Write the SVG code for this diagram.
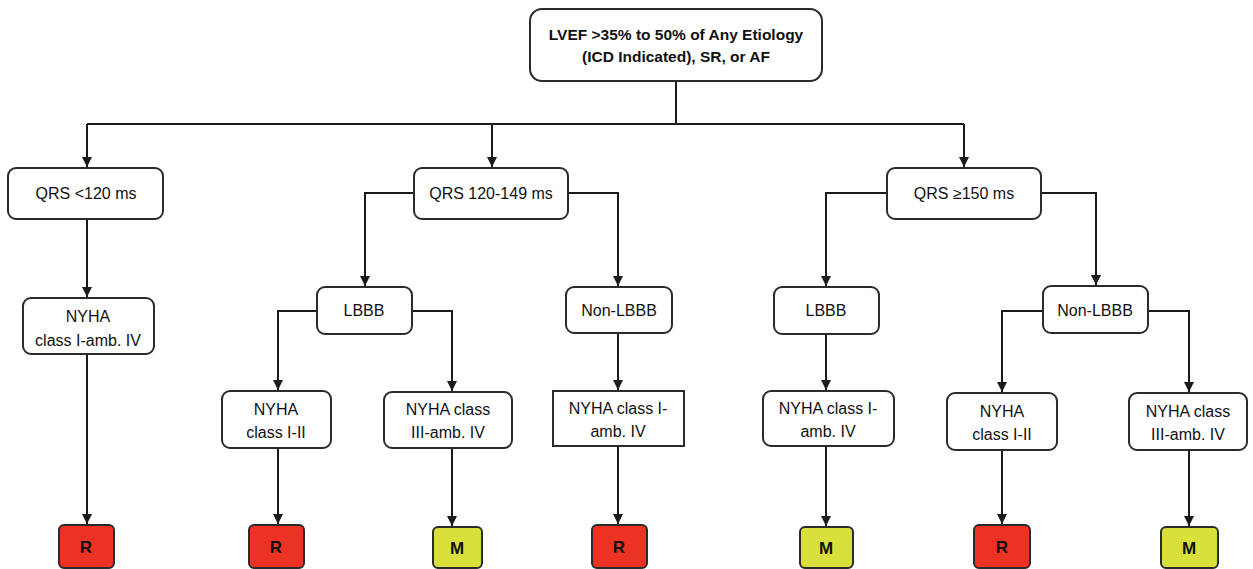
<svg xmlns="http://www.w3.org/2000/svg" width="1253" height="569" viewBox="0 0 1253 569">
<style>
.box{fill:#fff;stroke:#2b2b2b;stroke-width:2}
.r{fill:#ec3323;stroke:#2b2b2b;stroke-width:2}
.m{fill:#d9e03c;stroke:#2b2b2b;stroke-width:2}
.t{font-family:"Liberation Sans",Arial,sans-serif;font-size:16px;fill:#111;text-anchor:middle}
.b{font-weight:bold}
.big{font-family:"Liberation Sans",Arial,sans-serif;font-size:17px;font-weight:bold;fill:#111;text-anchor:middle}
.c{fill:none;stroke:#1a1a1a;stroke-width:2}
</style>
<defs>
<marker id="ah" viewBox="0 0 10 10" refX="10" refY="5" markerWidth="10" markerHeight="10" markerUnits="userSpaceOnUse" orient="auto">
<path d="M0,0 L10,5 L0,10 z" fill="#1a1a1a"/>
</marker>
</defs>
<rect width="1253" height="569" fill="#fff"/>
<g id="connectors">
<path class="c" d="M676,81 V124"/>
<path class="c" d="M87,124 H964"/>
<path class="c" d="M87,124 V167" marker-end="url(#ah)"/>
<path class="c" d="M492,124 V167" marker-end="url(#ah)"/>
<path class="c" d="M964,124 V167" marker-end="url(#ah)"/>
<path class="c" d="M87,219 V297" marker-end="url(#ah)"/>
<path class="c" d="M87,354 V524" marker-end="url(#ah)"/>
<path class="c" d="M414,193 H365 V286" marker-end="url(#ah)"/>
<path class="c" d="M568,193 H618 V286" marker-end="url(#ah)"/>
<path class="c" d="M317,311 H278 V390" marker-end="url(#ah)"/>
<path class="c" d="M412,311 H452 V391" marker-end="url(#ah)"/>
<path class="c" d="M278,448 V524" marker-end="url(#ah)"/>
<path class="c" d="M452,448 V526" marker-end="url(#ah)"/>
<path class="c" d="M618,333 V390" marker-end="url(#ah)"/>
<path class="c" d="M618,446 V524" marker-end="url(#ah)"/>
<path class="c" d="M887,193 H826 V286" marker-end="url(#ah)"/>
<path class="c" d="M1041,193 H1096 V285" marker-end="url(#ah)"/>
<path class="c" d="M826,334 V390" marker-end="url(#ah)"/>
<path class="c" d="M826,446 V526" marker-end="url(#ah)"/>
<path class="c" d="M1043,311 H1002 V392" marker-end="url(#ah)"/>
<path class="c" d="M1148,311 H1189 V392" marker-end="url(#ah)"/>
<path class="c" d="M1002,450 V524" marker-end="url(#ah)"/>
<path class="c" d="M1189,450 V526" marker-end="url(#ah)"/>
</g>
<g id="root">
<rect class="box" x="530" y="9" width="292" height="72" rx="12"/>
<text class="t b" x="676" y="40" style="font-size:15.5px">LVEF &gt;35% to 50% of Any Etiology</text>
<text class="t b" x="676" y="62" style="font-size:15.5px">(ICD Indicated), SR, or AF</text>
</g>
<g id="qrs120">
<rect class="box" x="8" y="168" width="155" height="51" rx="8"/>
<text class="t" x="86" y="199">QRS &lt;120 ms</text>
</g>
<g id="qrs120149">
<rect class="box" x="414" y="168" width="154" height="51" rx="8"/>
<text class="t" x="491" y="199">QRS 120-149 ms</text>
</g>
<g id="qrs150">
<rect class="box" x="887" y="168" width="154" height="51" rx="8"/>
<text class="t" x="964" y="199">QRS ≥150 ms</text>
</g>
<g id="nyha-left">
<rect class="box" x="23" y="298" width="131" height="56" rx="8"/>
<text class="t" x="88" y="322">NYHA</text>
<text class="t" x="88" y="346">class I-amb. IV</text>
</g>
<g id="lbbb-mid">
<rect class="box" x="317" y="287" width="95" height="47" rx="8"/>
<text class="t" x="364" y="316">LBBB</text>
</g>
<g id="nonlbbb-mid">
<rect class="box" x="566" y="287" width="106" height="46" rx="8"/>
<text class="t" x="619" y="316">Non-LBBB</text>
</g>
<g id="lbbb-right">
<rect class="box" x="774" y="287" width="105" height="47" rx="8"/>
<text class="t" x="826" y="316">LBBB</text>
</g>
<g id="nonlbbb-right">
<rect class="box" x="1043" y="286" width="105" height="47" rx="8"/>
<text class="t" x="1095" y="316">Non-LBBB</text>
</g>
<g id="nyha-12-mid">
<rect class="box" x="222" y="391" width="109" height="57" rx="8"/>
<text class="t" x="276" y="415">NYHA</text>
<text class="t" x="276" y="438">class I-II</text>
</g>
<g id="nyha-3-mid">
<rect class="box" x="384" y="392" width="128" height="56" rx="8"/>
<text class="t" x="448" y="415">NYHA class</text>
<text class="t" x="448" y="438">III-amb. IV</text>
</g>
<g id="nyha-amb-mid">
<rect class="box" x="553" y="391" width="131" height="55"/>
<text class="t" x="618" y="414">NYHA class I-</text>
<text class="t" x="618" y="437">amb. IV</text>
</g>
<g id="nyha-amb-right">
<rect class="box" x="763" y="391" width="131" height="55" rx="8"/>
<text class="t" x="828" y="414">NYHA class I-</text>
<text class="t" x="828" y="437">amb. IV</text>
</g>
<g id="nyha-12-right">
<rect class="box" x="947" y="393" width="110" height="57" rx="8"/>
<text class="t" x="1002" y="417">NYHA</text>
<text class="t" x="1002" y="440">class I-II</text>
</g>
<g id="nyha-3-right">
<rect class="box" x="1129" y="393" width="118" height="57" rx="8"/>
<text class="t" x="1188" y="417">NYHA class</text>
<text class="t" x="1188" y="440">III-amb. IV</text>
</g>
<g id="out1"><rect class="r" x="59" y="525" width="55" height="43" rx="5"/><text class="big" x="86" y="553">R</text></g>
<g id="out2"><rect class="r" x="249" y="525" width="55" height="43" rx="5"/><text class="big" x="276" y="553">R</text></g>
<g id="out3"><rect class="m" x="433" y="527" width="49" height="41" rx="5"/><text class="big" x="457" y="554">M</text></g>
<g id="out4"><rect class="r" x="592" y="525" width="55" height="43" rx="5"/><text class="big" x="619" y="553">R</text></g>
<g id="out5"><rect class="m" x="800" y="527" width="53" height="41" rx="5"/><text class="big" x="826" y="554">M</text></g>
<g id="out6"><rect class="r" x="974" y="525" width="56" height="43" rx="5"/><text class="big" x="1002" y="553">R</text></g>
<g id="out7"><rect class="m" x="1161" y="527" width="57" height="41" rx="5"/><text class="big" x="1189" y="554">M</text></g>
</svg>
